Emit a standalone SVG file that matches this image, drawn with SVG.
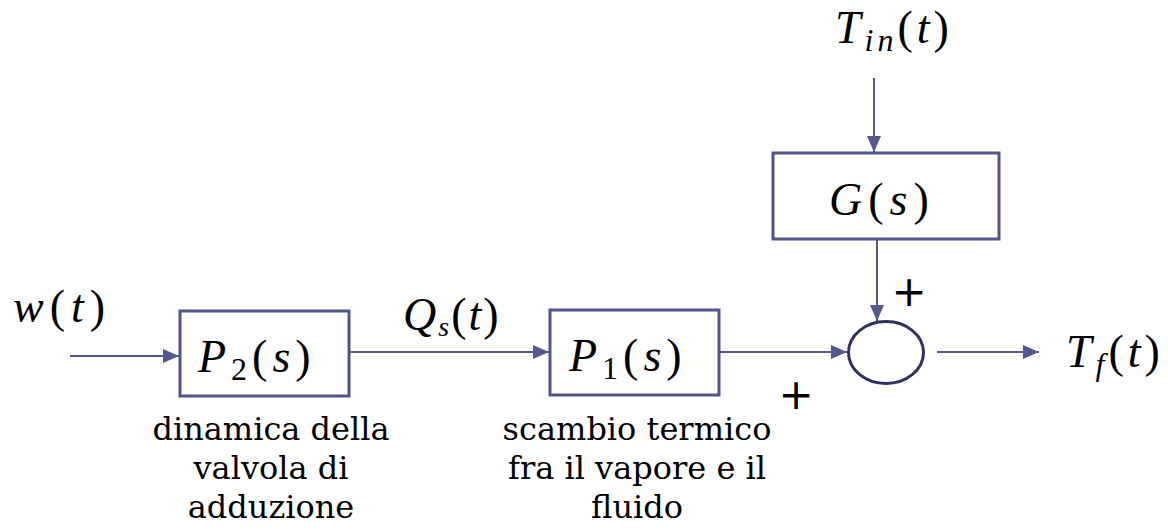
<svg xmlns="http://www.w3.org/2000/svg" width="1168" height="530" viewBox="0 0 1168 530">
<style>
.box{fill:#fff;stroke:#52548c;stroke-width:3}
.ln{stroke:#55588f;stroke-width:2;fill:none}
.m{font-family:'Liberation Serif','DejaVu Serif',serif;font-size:46px;fill:#000}
.i{font-style:italic}
.cap{font-family:'DejaVu Serif',serif;font-size:32px;fill:#000;text-anchor:middle}
.pl{font-family:'DejaVu Sans','Liberation Sans',sans-serif;font-size:42px;fill:#000;text-anchor:middle}
</style>
<defs>
<marker id="ah" markerUnits="userSpaceOnUse" markerWidth="16" markerHeight="14" refX="16" refY="7" orient="auto">
<path d="M0,0 L16,7 L0,14 Z" fill="#55588f"/>
</marker>
</defs>
<g id="connectors">
<line class="ln" x1="70" y1="356" x2="179" y2="356" marker-end="url(#ah)"/>
<line class="ln" x1="349" y1="352" x2="549" y2="352" marker-end="url(#ah)"/>
<line class="ln" x1="719" y1="352" x2="847" y2="352" marker-end="url(#ah)"/>
<line class="ln" x1="874" y1="78" x2="874" y2="152" marker-end="url(#ah)"/>
<line class="ln" x1="877" y1="239" x2="877" y2="321" marker-end="url(#ah)"/>
<line class="ln" x1="937" y1="352" x2="1039" y2="352" marker-end="url(#ah)"/>
</g>
<g id="P2">
<rect class="box" x="180" y="311" width="169" height="85"/>
<text class="m" x="198" y="372" letter-spacing="5"><tspan class="i">P</tspan><tspan font-size="32" dy="8">2</tspan><tspan dy="-8">(</tspan><tspan class="i">s</tspan>)</text>
</g>
<g id="P1">
<rect class="box" x="550" y="310" width="169" height="85"/>
<text class="m" x="569" y="371" letter-spacing="5"><tspan class="i">P</tspan><tspan font-size="32" dy="8">1</tspan><tspan dy="-8">(</tspan><tspan class="i">s</tspan>)</text>
</g>
<g id="G">
<rect class="box" x="773" y="153" width="226" height="86"/>
<text class="m" x="829" y="215" letter-spacing="6"><tspan class="i">G</tspan>(<tspan class="i">s</tspan>)</text>
</g>
<g id="sum">
<ellipse cx="886" cy="352.5" rx="37.5" ry="31" fill="#fff" stroke="#2f3161" stroke-width="3"/>
<text class="pl" x="909" y="306">+</text>
<text class="pl" x="796" y="409">+</text>
</g>
<g id="labels">
<text class="m" x="13" y="322" letter-spacing="6"><tspan class="i">w</tspan>(<tspan class="i">t</tspan>)</text>
<text class="m" x="403" y="330" font-size="40" letter-spacing="2"><tspan class="i">Q</tspan><tspan class="i" font-size="28" dy="6">s</tspan><tspan dy="-6">(</tspan><tspan class="i">t</tspan>)</text>
<text class="m" x="835" y="43" letter-spacing="4"><tspan class="i">T</tspan><tspan class="i" font-size="32" dy="8">in</tspan><tspan dy="-8">(</tspan><tspan class="i">t</tspan>)</text>
<text class="m" x="1066" y="367" letter-spacing="4"><tspan class="i">T</tspan><tspan class="i" font-size="32" dy="8">f</tspan><tspan dy="-8">(</tspan><tspan class="i">t</tspan>)</text>
<text class="cap" x="271" y="440">dinamica della</text>
<text class="cap" x="271" y="479">valvola di</text>
<text class="cap" x="271" y="518">adduzione</text>
<text class="cap" x="637" y="440">scambio termico</text>
<text class="cap" x="637" y="479">fra il vapore e il</text>
<text class="cap" x="637" y="518">fluido</text>
</g>
</svg>
